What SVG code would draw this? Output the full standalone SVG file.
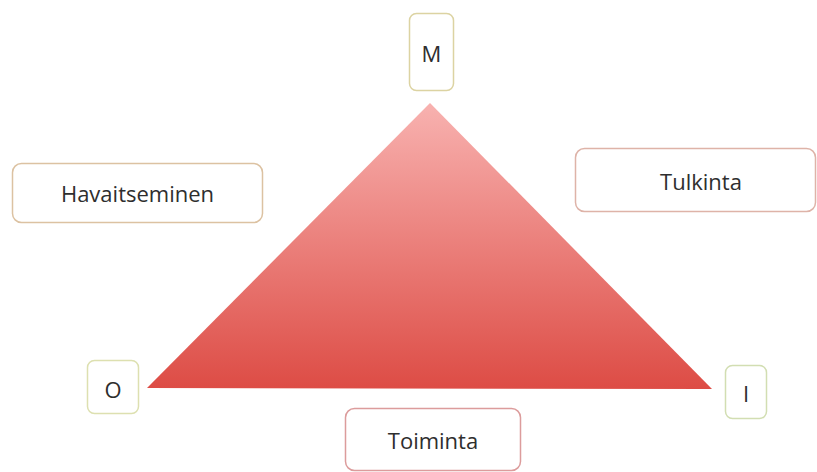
<svg xmlns="http://www.w3.org/2000/svg" width="817" height="472" viewBox="0 0 817 472">
<style>
.box{fill:#ffffff;stroke-width:1.5}
.t{font-family:"Open Sans","Liberation Sans",sans-serif;font-size:22px;fill:#2e2e2e;text-anchor:middle;dominant-baseline:central}
</style>
<defs>
<linearGradient id="g" x1="0" y1="0" x2="0" y2="1">
<stop offset="0" stop-color="#f8b2b0"/>
<stop offset="1" stop-color="#dd4c45"/>
</linearGradient>
</defs>
<rect width="817" height="472" fill="#ffffff"/>
<g id="connectors">
<polygon points="430,103 147,388 712,389" fill="url(#g)"/>
</g>
<g id="M"><rect class="box" x="409.5" y="13.5" width="44" height="77" rx="7" stroke="#dcd3a2"/><text class="t" x="431.5" y="53">M</text></g>
<g id="Havaitseminen"><rect class="box" x="12.5" y="163.5" width="250" height="59" rx="9" stroke="#dcc2a2"/><text class="t" x="137.5" y="193">Havaitseminen</text></g>
<g id="Tulkinta"><rect class="box" x="575.5" y="148.5" width="240" height="63" rx="9" stroke="#deb3a8"/><text class="t" x="701" y="181">Tulkinta</text></g>
<g id="O"><rect class="box" x="87.5" y="360.5" width="51" height="53" rx="7" stroke="#dde0b0"/><text class="t" x="113" y="389">O</text></g>
<g id="Toiminta"><rect class="box" x="345.5" y="408.5" width="175" height="62" rx="9" stroke="#dc9c9c"/><text class="t" x="433" y="440">Toiminta</text></g>
<g id="I"><rect class="box" x="725.5" y="365.5" width="41" height="53" rx="7" stroke="#d2deb2"/><text class="t" x="746" y="393">I</text></g>
</svg>
